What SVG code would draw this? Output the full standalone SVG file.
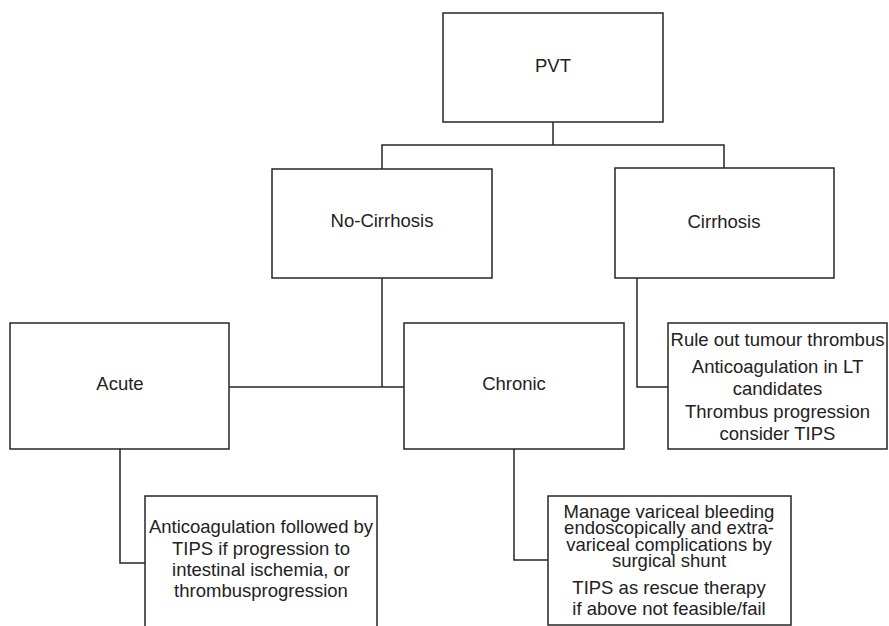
<svg xmlns="http://www.w3.org/2000/svg" width="889" height="626" viewBox="0 0 889 626">
<style>
.box{fill:#fff;stroke:#262626;stroke-width:1.5}
.ln{fill:none;stroke:#262626;stroke-width:1.5}
text{font-family:"Liberation Sans",Arial,sans-serif;font-size:18.5px;fill:#222;text-anchor:middle}
</style>
<rect width="889" height="626" fill="#fff"/>
<g id="connectors">
<polyline class="ln" points="553,122 553,145"/>
<polyline class="ln" points="382,169 382,145 724,145 724,168"/>
<polyline class="ln" points="382,278 382,387"/>
<polyline class="ln" points="229,387 404,387"/>
<polyline class="ln" points="637,278 637,387 668,387"/>
<polyline class="ln" points="120,449 120,563 145,563"/>
<polyline class="ln" points="514,449 514,560 548,560"/>
</g>
<g id="pvt">
<rect class="box" x="443" y="13" width="220" height="109"/>
<text x="553" y="72">PVT</text>
</g>
<g id="no-cirrhosis">
<rect class="box" x="272" y="169" width="220" height="109"/>
<text x="382" y="227">No-Cirrhosis</text>
</g>
<g id="cirrhosis">
<rect class="box" x="615" y="168" width="219" height="110"/>
<text x="724" y="228">Cirrhosis</text>
</g>
<g id="acute">
<rect class="box" x="10" y="323" width="219" height="126"/>
<text x="120" y="390">Acute</text>
</g>
<g id="chronic">
<rect class="box" x="404" y="323" width="220" height="126"/>
<text x="514" y="390">Chronic</text>
</g>
<g id="cirrhosis-management">
<rect class="box" x="668" y="323" width="219" height="126"/>
<text x="777.5" y="346">Rule out tumour thrombus</text>
<text x="777.5" y="373">Anticoagulation in LT</text>
<text x="777.5" y="395">candidates</text>
<text x="777.5" y="418">Thrombus progression</text>
<text x="777.5" y="440">consider TIPS</text>
</g>
<g id="acute-management">
<rect class="box" x="145" y="496" width="232" height="140"/>
<text x="261" y="533">Anticoagulation followed by</text>
<text x="261" y="555">TIPS if progression to</text>
<text x="261" y="576">intestinal ischemia, or</text>
<text x="261" y="597">thrombusprogression</text>
</g>
<g id="chronic-management">
<rect class="box" x="548" y="496" width="243" height="129"/>
<text x="669" y="518">Manage variceal bleeding</text>
<text x="669" y="534">endoscopically and extra-</text>
<text x="669" y="551">variceal complications by</text>
<text x="669" y="567">surgical shunt</text>
<text x="669" y="594">TIPS as rescue therapy</text>
<text x="669" y="615">if above not feasible/fail</text>
</g>
</svg>
